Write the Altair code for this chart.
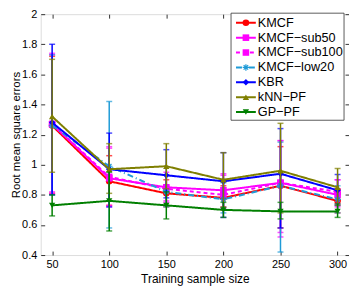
import altair as alt
import pandas as pd

sizes = [50, 100, 150, 200, 250, 300]
methods = ["KMCF", "KMCF−sub50", "KMCF−sub100", "KMCF−low20", "KBR", "kNN−PF", "GP−PF"]

mean_kmcf = [1.26, 0.89, 0.81, 0.78, 0.86, 0.76]
lo_kmcf = [0.81, 0.73, 0.72, 0.70, 0.58, 0.68]
hi_kmcf = [1.72, 1.06, 0.90, 0.86, 1.12, 0.84]

mean_sub50 = [1.27, 0.91, 0.85, 0.83, 0.88, 0.80]
lo_sub50 = [0.81, 0.72, 0.76, 0.72, 0.55, 0.72]
hi_sub50 = [1.74, 1.11, 0.95, 0.94, 1.16, 0.90]

mean_sub100 = [1.27, 0.92, 0.84, 0.80, 0.88, 0.82]
lo_sub100 = [0.82, 0.73, 0.75, 0.71, 0.52, 0.74]
hi_sub100 = [1.73, 1.12, 0.93, 0.93, 1.16, 0.90]

mean_low20 = [1.26, 0.99, 0.82, 0.77, 0.86, 0.77]
lo_low20 = [0.80, 0.58, 0.72, 0.68, 0.42, 0.68]
hi_low20 = [1.73, 1.42, 0.93, 0.88, 1.15, 0.86]

mean_kbr = [1.28, 0.97, 0.93, 0.89, 0.94, 0.83]
lo_kbr = [0.80, 0.72, 0.78, 0.65, 0.58, 0.73]
hi_kbr = [1.80, 1.21, 1.10, 1.08, 1.24, 0.935]

mean_knn = [1.32, 0.97, 0.99, 0.90, 0.96, 0.85]
lo_knn = [0.95, 0.81, 0.84, 0.72, 0.68, 0.73]
hi_knn = [1.70, 1.14, 1.14, 1.08, 1.275, 0.975]

mean_gp = [0.73, 0.76, 0.73, 0.70, 0.69, 0.69]
lo_gp = [0.66, 0.56, 0.64, 0.65, 0.64, 0.65]
hi_gp = [0.80, 0.95, 0.82, 0.75, 0.75, 0.74]

x_ticks = [50, 100, 150, 200, 250, 300]
y_ticks = [0.4, 0.6, 0.8, 1, 1.2, 1.4, 1.6, 1.8, 2]

colors = ["#ff0000", "#ff00ff", "#ff00ff", "#1f9bd7", "#0000ff", "#7f7f00", "#007f00"]
ASTERISK = "M-1,0L1,0M0,-1L0,1M-0.7,-0.7L0.7,0.7M-0.7,0.7L0.7,-0.7"
shapes = ["circle", "square", "square", ASTERISK, "diamond", "triangle-up", "triangle-down"]
dashes = [[1, 0], [1, 0], [4, 3], [6, 3, 1, 3], [1, 0], [1, 0], [1, 0]]
msizes = [45, 40, 40, 45, 55, 100, 100]

series = [
    (mean_kmcf, lo_kmcf, hi_kmcf),
    (mean_sub50, lo_sub50, hi_sub50),
    (mean_sub100, lo_sub100, hi_sub100),
    (mean_low20, lo_low20, hi_low20),
    (mean_kbr, lo_kbr, hi_kbr),
    (mean_knn, lo_knn, hi_knn),
    (mean_gp, lo_gp, hi_gp),
]

rows = []
for m, (mn, lo, hi) in zip(methods, series):
    for x, a, b, c in zip(sizes, mn, lo, hi):
        rows.append({"method": m, "x": x, "mean": a, "lo": b, "hi": c})
df = pd.DataFrame(rows)

leg = pd.DataFrame({"method": methods, "idx": list(range(len(methods)))})

FONT = "Liberation Sans"
PAD_L, PAD_T = 33, 5
W, H = 311, 243

color_enc = alt.Color("method:N", scale=alt.Scale(domain=methods, range=colors), legend=None)
dash_enc = alt.StrokeDash("method:N", scale=alt.Scale(domain=methods, range=dashes), legend=None)
shape_enc = alt.Shape("method:N", scale=alt.Scale(domain=methods, range=shapes), legend=None)
size_enc = alt.Size("method:N", scale=alt.Scale(domain=methods, range=msizes), legend=None)

xscale = alt.Scale(domain=[40, 310], nice=False, zero=False)
yscale = alt.Scale(domain=[0.4, 2], nice=False, zero=False)

base = alt.Chart(df)

def X(field="x", axis=None):
    return alt.X(f"{field}:Q", scale=xscale, axis=axis)

def Y(field, axis=None):
    return alt.Y(f"{field}:Q", scale=yscale, axis=axis)

axis_common = dict(tickSize=4, offset=-4, domain=False, grid=False, tickColor="#333",
                   labelFont=FONT, labelFontSize=11, labelColor="#000",
                   titleFont=FONT, titleFontWeight="normal", titleColor="#000")

x_axis_bottom = alt.Axis(values=x_ticks, orient="bottom", title="Training sample size",
                         labelPadding=4, titlePadding=4, titleFontSize=12, **axis_common)
y_axis_left = alt.Axis(values=y_ticks, orient="left", title="Root mean square errors",
                       format="~g", labelPadding=4, titlePadding=0, titleFontSize=11.5,
                       **axis_common)
x_axis_top = alt.Axis(values=x_ticks, orient="top", labels=False, title=None, **axis_common)
y_axis_right = alt.Axis(values=y_ticks, orient="right", labels=False, title=None, **axis_common)

axes1 = base.mark_point(opacity=0).encode(x=X(axis=x_axis_bottom), y=Y("mean", axis=y_axis_left))
axes2 = base.mark_point(opacity=0).encode(x=X(axis=x_axis_top), y=Y("mean", axis=y_axis_right))

layers = [axes1, axes2]
for m in methods:
    sub = base.transform_filter(alt.datum.method == m)
    bars = sub.mark_rule(strokeWidth=1.5).encode(x=X(), y=Y("lo"), y2="hi:Q", color=color_enc)
    cap_lo = sub.mark_tick(orient="horizontal", size=6, thickness=1.5).encode(
        x=X(), y=Y("lo"), color=color_enc)
    cap_hi = sub.mark_tick(orient="horizontal", size=6, thickness=1.5).encode(
        x=X(), y=Y("hi"), color=color_enc)
    line = sub.mark_line(strokeWidth=2).encode(
        x=X(), y=Y("mean"), color=color_enc, strokeDash=dash_enc)
    if m == "KMCF−low20":
        pts = sub.mark_point(shape=ASTERISK, filled=False, strokeWidth=1.2, opacity=1).encode(
            x=X(), y=Y("mean"), color=color_enc, size=size_enc)
    else:
        pts = sub.mark_point(filled=True, opacity=1).encode(
            x=X(), y=Y("mean"), color=color_enc, shape=shape_enc, size=size_enc)
    layers += [bars, cap_lo, cap_hi, line, pts]

data_layer = alt.layer(*layers).resolve_axis(x="independent", y="independent")

# legend (page coordinates converted to plot coordinates)
ox, oy = 8 + PAD_L, 8 + PAD_T
lbase = alt.Chart(leg)
ly = alt.Y("idx:Q", scale=alt.Scale(domain=[0, 6], range=[21.7 - oy, 111.7 - oy]), axis=None)
box = alt.Chart(pd.DataFrame({"a": [0]})).mark_rect(fill="white", stroke="#333", strokeWidth=0.8).encode(
    x=alt.value(233 - ox), x2=alt.value(347 - ox), y=alt.value(12 - oy), y2=alt.value(120 - oy))
lrule = lbase.mark_rule(strokeWidth=2).encode(
    x=alt.value(238 - ox), x2=alt.value(258 - ox), y=ly, color=color_enc, strokeDash=dash_enc)
lpts = lbase.transform_filter(alt.datum.method != "KMCF−low20").mark_point(filled=True, opacity=1).encode(
    x=alt.value(248 - ox), y=ly, color=color_enc, shape=shape_enc, size=size_enc)
lpts2 = lbase.transform_filter(alt.datum.method == "KMCF−low20").mark_point(
    shape=ASTERISK, filled=False, strokeWidth=1.2, opacity=1).encode(
    x=alt.value(248 - ox), y=ly, color=color_enc, size=size_enc)
ltext = lbase.mark_text(align="left", baseline="middle", font=FONT, fontSize=12.8, color="#000").encode(
    x=alt.value(260 - ox), y=ly, text="method:N")
legend_layer = alt.layer(box, lrule, lpts, lpts2, ltext)

chart = alt.layer(data_layer, legend_layer).resolve_scale(y="independent").properties(
    width=W, height=H,
    autosize=alt.AutoSizeParams(type="none"),
    padding={"left": PAD_L, "top": PAD_T, "right": 0, "bottom": 30},
).configure_view(stroke="#333", strokeWidth=1).configure(background="white")

chart.save("out.html", embed_options={"renderer": "svg", "actions": False})
